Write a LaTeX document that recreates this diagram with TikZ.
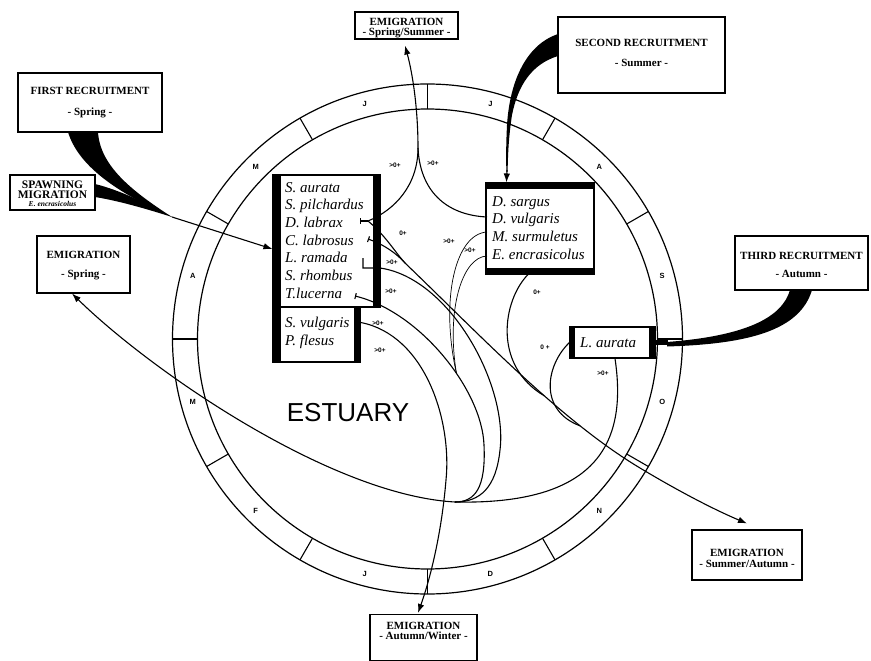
\documentclass[tikz,border=0pt]{standalone}
\usepackage{fontspec}
\setmainfont{Liberation Serif}
\setsansfont{Liberation Sans}
\usetikzlibrary{arrows.meta,calc}
\begin{document}
\begin{tikzpicture}[x=1pt,y=-1pt,
  box/.style={draw, line width=1.1pt, fill=white, inner sep=0pt},
  ttl/.style={font=\fontsize{11}{11}\selectfont\bfseries, anchor=base, inner sep=0pt},
  spn/.style={font=\fontsize{15}{15}\selectfont\itshape, anchor=base west, inner sep=0pt},
  lab/.style={font=\fontsize{6.5}{6.5}\selectfont\sffamily\bfseries, inner sep=0pt},
  month/.style={font=\fontsize{7.5}{7.5}\selectfont\sffamily\bfseries, inner sep=0pt},
  conn/.style={line width=1.1pt},
  thinconn/.style={line width=0.7pt},
  tipend/.style={-{Latex[length=9pt,width=6.5pt]}},
  barstart/.style={{Bar[width=6pt]}-},
  bartip/.style={{Bar[width=6pt]}-{Latex[length=9pt,width=6.5pt]}}
]
\useasboundingbox (0,0) rectangle (871,661);
\fill[white] (0,0) rectangle (871,661);

% ---- month ring ----
\coordinate (c) at (427.5,339);
\draw[line width=1.2pt] (c) circle[radius=230pt];
\draw[line width=1.2pt] (c) circle[radius=255pt];
\foreach \a in {0,30,...,330}
  \draw[line width=1.1pt] ($(c)+(\a:230pt)$) -- ($(c)+(\a:255pt)$);
\foreach \a/\m in {15/S,45/A,75/J,105/J,135/M,165/A,195/M,225/F,255/J,285/D,315/N,345/O}
  \node[month] at ($(c)+(\a:243pt)$) {\m};

\node[font=\sffamily\fontsize{26}{26}\selectfont, inner sep=0pt] (est) at (348,413) {ESTUARY};

% ---- outer boxes ----
\node[box, minimum width=144pt, minimum height=59pt] (fr) at (90,102.5) {};
\node[ttl] at (90,95) {FIRST RECRUITMENT};
\node[ttl] at (90,116) {- Spring -};

\node[box, minimum width=85pt, minimum height=35pt] (sm) at (52.5,192.5) {};
\node[ttl, font=\fontsize{11.5}{11.5}\selectfont\bfseries] at (52.5,188.5) {SPAWNING};
\node[ttl, font=\fontsize{11.5}{11.5}\selectfont\bfseries] at (52.5,198.5) {MIGRATION};
\node[ttl, font=\fontsize{7.5}{7.5}\selectfont\bfseries\itshape] at (52.5,206.5) {E. encrasicolus};

\node[box, minimum width=93pt, minimum height=57pt] (es) at (83.5,264.5) {};
\node[ttl] at (83.5,258) {EMIGRATION};
\node[ttl] at (83.5,277) {- Spring -};

\node[box, minimum width=103pt, minimum height=27pt] (ess) at (406.5,25.5) {};
\node[ttl] at (406.5,26) {EMIGRATION};
\node[ttl] at (406.5,36) {- Spring/Summer -};

\node[box, minimum width=167pt, minimum height=76pt] (sr) at (641.5,55) {};
\node[ttl] at (641.5,47) {SECOND RECRUITMENT};
\node[ttl] at (641.5,67) {- Summer -};

\node[box, minimum width=133pt, minimum height=54pt] (tr) at (801.5,263) {};
\node[ttl] at (801.5,259) {THIRD RECRUITMENT};
\node[ttl] at (801.5,277) {- Autumn -};

\node[box, minimum width=110pt, minimum height=50pt] (esa) at (747,555) {};
\node[ttl] at (747,556) {EMIGRATION};
\node[ttl] at (747,567) {- Summer/Autumn -};

\node[box, minimum width=107pt, minimum height=46pt] (eaw) at (423.5,637.5) {};
\node[ttl] at (423.5,629) {EMIGRATION};
\node[ttl] at (423.5,639) {- Autumn/Winter -};

% ---- species boxes ----
\node[box, minimum width=107pt, minimum height=132pt] (lb1) at (326.5,241) {};
\node[box, minimum width=87pt, minimum height=55pt] (lb2) at (316.5,334.5) {};
\fill (lb1.north west) rectangle ($(lb2.south west)+(9,0)$);
\fill ($(lb1.north east)+(-8,0)$) rectangle (lb1.south east);
\fill ($(lb2.north east)+(-7,0)$) rectangle (lb2.south east);
\node[spn] at (285,192) {S. aurata};
\node[spn] at (285,209.7) {S. pilchardus};
\node[spn] at (285,227.4) {D. labrax};
\node[spn] at (285,245.1) {C. labrosus};
\node[spn] at (285,262.8) {L. ramada};
\node[spn] at (285,280.5) {S. rhombus};
\node[spn] at (285,298.2) {T.lucerna};
\node[spn] at (285,327) {S. vulgaris};
\node[spn] at (285,345) {P. flesus};

\node[box, minimum width=108pt, minimum height=91pt] (rb) at (540,228.5) {};
\fill (rb.north west) rectangle ($(rb.north east)+(0,7)$);
\fill ($(rb.south west)+(0,-7)$) rectangle (rb.south east);
\node[spn] at (492,206) {D. sargus};
\node[spn] at (492,223) {D. vulgaris};
\node[spn] at (492,241) {M. surmuletus};
\node[spn] at (492,259) {E. encrasicolus};

\node[box, minimum width=85pt, minimum height=31pt] (la) at (612.5,342.5) {};
\fill (la.north west) rectangle ($(la.south west)+(6,0)$);
\fill ($(la.north east)+(-7,0)$) rectangle (la.south east);
\node[spn] at (580,347) {L. aurata};

% ---- recruitment wedges ----
\fill (68,132) .. controls (78,165) and (115,192) .. (172,217)
      .. controls (130,190) and (100,165) .. (98,132) -- cycle;
\fill (95,184) .. controls (120,190) and (150,205) .. (172,217)
      .. controls (150,210) and (120,201) .. (95,197) -- cycle;
\coordinate (frj) at (172,217);
\draw[conn, tipend] (frj) -- ($(lb1.west)+(0,8)$);

\fill (558,34) .. controls (528,44) and (510,78) .. (507,125)
      .. controls (506,145) and (506,160) .. (506.4,172) -- (507.6,172)
      .. controls (508,150) and (509,135) .. (512,115)
      .. controls (518,85) and (532,64) .. (558,56) -- cycle;
\draw[conn, tipend] (507,170) -- ($(rb.north west)+(21,0)$);

\fill (812,290) .. controls (800,330) and (750,344) .. (667,346.5)
      -- (667,342) .. controls (745,336) and (782,318) .. (790,290) -- cycle;
\fill ($(la.east)+(0,-2.5)$) rectangle ($(la.east)+(12,2.5)$);

% ---- migration connectors ----
\coordinate (dl) at (360,221);
\coordinate (dl1) at (368,221);
\coordinate (j1) at (418,148);
\coordinate (dv) at (487,217);
\coordinate (cl) at (368,239);
\coordinate (d0) at (405,263);
\coordinate (tl) at (355,296);
\coordinate (ms) at (487,232);
\coordinate (ee) at (487,256);
\coordinate (jb) at (455,502);

\draw[conn, barstart] (dl) -- (dl1);
\draw[conn, tipend] (dl1) .. controls (395,210) and (418,185) .. (j1)
      .. controls (418,110) and (413,75) .. ($(ess.south)+(-1.5,6)$);
\draw[conn] (dv) .. controls (445,215) and (420,190) .. (j1);

\draw[conn] (dl1) .. controls (385,235) and (395,252) .. (d0);
\draw[conn, barstart] (cl) .. controls (385,245) and (397,254) .. (d0);
\draw[conn, tipend] (d0) .. controls (480,335) and (560,420) ..
      coordinate[pos=0.6] (m6) coordinate[pos=0.75] (m75) (640,468)
      .. controls (680,492) and (715,510) .. ($(esa.north)+(0,-6)$);

\draw[conn] ($(rb.south)+(-12,0)$) .. controls (503,300) and (492,365) .. (m6);
\draw[conn] (la.west) .. controls (546,365) and (538,410) .. (m75);

\draw[conn, barstart] (tl) .. controls (420,312) and (482,390) ..
      coordinate[pos=0.6] (mc) (484,445) .. controls (486,488) and (475,502) .. (jb);
\draw[conn] (363,258) -- (363,268) -- (380,268)
      .. controls (450,278) and (508,385) .. (500,450)
      .. controls (496,488) and (480,502) .. (jb);
\draw[thinconn] (ms) .. controls (455,234) and (440,300) .. (mc);
\draw[thinconn] (ee) .. controls (462,257) and (446,310) .. (mc);

\draw[conn, tipend] ($(la.south)+(2.5,0)$) .. controls (628,445) and (595,505) .. (jb)
      .. controls (330,495) and (150,370) .. ($(es.south)+(-11.5,0)$);

\draw[conn, tipend] ($(lb2.north east)+(0,16)$) .. controls (425,335) and (452,420) .. (446,480)
      .. controls (441,540) and (428,585) .. ($(eaw.north)+(-5.5,-1)$);

% ---- age labels ----
\node[lab] at (395,165) {>0+};
\node[lab] at (433,163) {>0+};
\node[lab] at (403,233) {0+};
\node[lab] at (392,262) {>0+};
\node[lab] at (391,291) {>0+};
\node[lab] at (378,323) {>0+};
\node[lab] at (380,350) {>0+};
\node[lab] at (449,241) {>0+};
\node[lab] at (470,250) {>0+};
\node[lab] at (537,292) {0+};
\node[lab] at (545,347) {0 +};
\node[lab] at (603,373) {>0+};
\end{tikzpicture}
\end{document}
